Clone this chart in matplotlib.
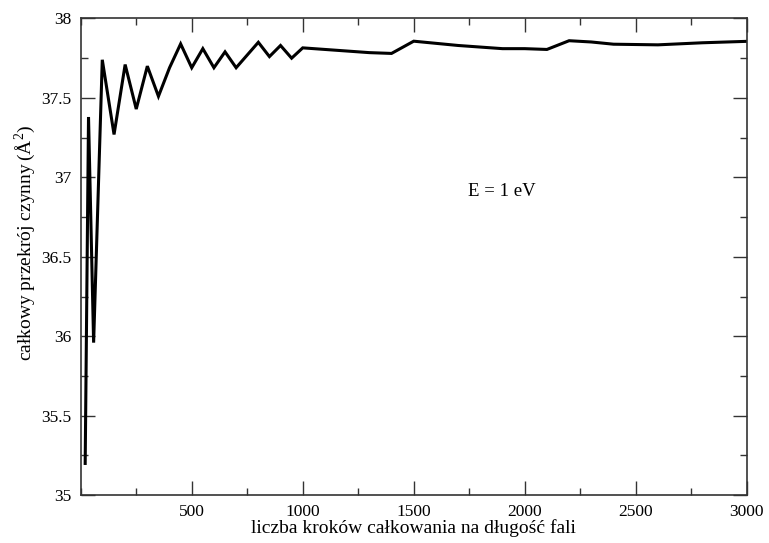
"""Total cross section vs. number of integration steps per wavelength (E = 1 eV)."""

import matplotlib
matplotlib.use("Agg")
import matplotlib.pyplot as plt
from matplotlib.ticker import MultipleLocator, FormatStrFormatter

plt.rcParams["font.family"] = ["Liberation Serif", "DejaVu Serif"]
plt.rcParams["mathtext.fontset"] = "custom"
plt.rcParams["mathtext.rm"] = "Liberation Serif"

# number of integration steps per wavelength
steps = [20, 35, 58, 97, 150, 200, 250, 300, 350, 400, 450, 500, 550, 600, 650,
         700, 750, 800, 850, 900, 950, 1000, 1300, 1400, 1500, 1700, 1900, 2000,
         2100, 2200, 2300, 2400, 2600, 2800, 3000]
# total cross section (A^2)
sigma = [35.20, 37.38, 35.96, 37.74, 37.27, 37.71, 37.43, 37.70, 37.51, 37.69,
         37.84, 37.69, 37.81, 37.69, 37.79, 37.69, 37.77, 37.85, 37.76, 37.83,
         37.75, 37.815, 37.785, 37.78, 37.857, 37.83, 37.81, 37.81, 37.805,
         37.86, 37.852, 37.838, 37.834, 37.847, 37.856]

fig = plt.figure(figsize=(7.69, 5.43), dpi=100)
ax = fig.add_axes([0.105, 0.088, 0.866, 0.878])

ax.plot(steps, sigma, color="black", linewidth=2.2, solid_joinstyle="miter")

ax.set_xlim(0, 3000)
ax.set_ylim(35, 38)
ax.xaxis.set_major_locator(MultipleLocator(500))
ax.xaxis.set_minor_locator(MultipleLocator(250))
ax.yaxis.set_major_locator(MultipleLocator(0.5))
ax.yaxis.set_minor_locator(MultipleLocator(0.25))
ax.yaxis.set_major_formatter(FormatStrFormatter("%g"))
ax.set_xticks([500, 1000, 1500, 2000, 2500, 3000])

ax.tick_params(which="both", direction="in", top=True, right=True,
               labelsize=12.5, color="#333333")
ax.tick_params(which="major", length=10, width=1)
ax.tick_params(which="minor", length=5, width=1)
ax.tick_params(axis="x", pad=6)
ax.tick_params(axis="y", pad=7)
for sp in ax.spines.values():
    sp.set_linewidth(1.2)
    sp.set_color("#333333")

ax.set_xlabel("liczba kroków całkowania na długość fali", fontsize=14, labelpad=0)
ax.set_ylabel("całkowy przekrój czynny$\\,$(Å$^2$)", fontsize=14)
ax.yaxis.set_label_coords(-0.064, 0.53)
ax.text(1896, 36.91, "E = 1 eV", fontsize=13.5, ha="center", va="center")

fig.savefig("out.png", dpi=100)
